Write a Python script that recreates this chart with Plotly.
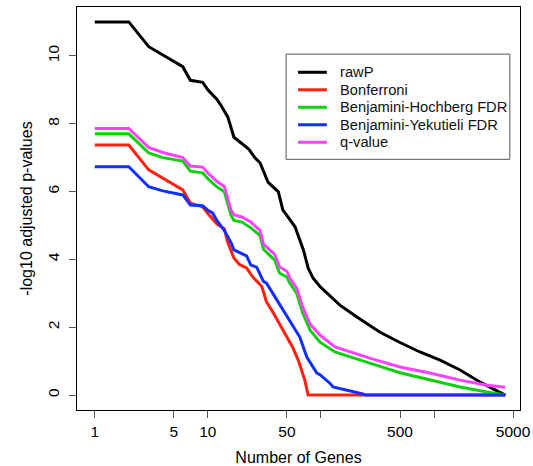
import plotly.graph_objects as go

# Number of genes called significant (rank) vs -log10 adjusted p-value
raw_genes = [1, 2, 3, 4, 5, 6, 7, 9, 10, 12, 13, 15, 17, 20, 23, 26, 29, 34, 42, 46,
             52, 59, 65, 70, 77, 85, 98, 125, 147, 208, 333, 500, 750, 1130, 1700, 2560, 4266]
raw_vals = [11.0, 11.0, 10.27, 10.03, 9.85, 9.68, 9.28, 9.22, 9.0, 8.72, 8.55, 8.2, 7.6, 7.4,
            7.25, 7.0, 6.84, 6.28, 5.99, 5.46, 5.2, 4.96, 4.57, 4.28, 3.75, 3.45, 3.2, 2.86,
            2.65, 2.30, 1.85, 1.55, 1.27, 1.03, 0.74, 0.38, 0.0]

bonf_genes = [1, 2, 3, 4, 6, 7, 9, 10, 12, 14, 15, 17, 19, 22, 25, 30, 33, 38, 46, 56,
              63, 72, 77, 4266]
bonf_vals = [7.37, 7.37, 6.64, 6.4, 6.05, 5.66, 5.55, 5.35, 5.05, 4.9, 4.5, 4.04, 3.85,
             3.75, 3.48, 3.2, 2.75, 2.42, 1.92, 1.42, 1.03, 0.44, 0.0, 0.0]

bh_genes = [1, 2, 3, 4, 6, 7, 9, 10, 12, 14, 16, 17, 20, 24, 29, 31, 39, 43, 50, 53, 61,
            69, 80, 98, 133, 180, 270, 500, 920, 1700, 2940, 4266]
bh_vals = [7.70, 7.70, 7.14, 7.0, 6.9, 6.6, 6.55, 6.38, 6.14, 5.99, 5.3, 5.15, 5.1, 4.93,
           4.7, 4.3, 3.98, 3.6, 3.48, 3.3, 3.0, 2.42, 1.92, 1.56, 1.27, 1.12, 0.94, 0.66,
           0.44, 0.24, 0.09, 0.0]

by_genes = [1, 2, 3, 4, 6, 7, 9, 10, 11, 12, 14, 16, 17, 22, 24, 27, 31, 33, 40, 53, 65,
            75, 92, 98, 120, 128, 170, 235, 250, 4266]
by_vals = [6.73, 6.73, 6.14, 6.02, 5.9, 5.6, 5.58, 5.45, 5.37, 5.15, 4.85, 4.5, 4.28, 4.1,
           3.83, 3.77, 3.35, 3.3, 2.85, 2.21, 1.71, 1.12, 0.65, 0.6, 0.35, 0.24, 0.15, 0.03,
           0.0, 0.0]

q_genes = [1, 2, 3, 4, 6, 7, 9, 10, 12, 14, 16, 17, 20, 24, 29, 31, 39, 43, 50, 53, 61,
           69, 80, 98, 133, 180, 270, 500, 920, 1700, 2940, 4266]
q_vals = [7.86, 7.86, 7.3, 7.15, 7.0, 6.75, 6.72, 6.55, 6.3, 6.15, 5.45, 5.32, 5.25, 5.1,
          4.85, 4.45, 4.15, 3.78, 3.65, 3.45, 3.15, 2.6, 2.1, 1.77, 1.42, 1.27, 1.09, 0.83,
          0.65, 0.44, 0.29, 0.23]

series = [
    ("rawP", raw_genes, raw_vals, "#000000"),
    ("Bonferroni", bonf_genes, bonf_vals, "#ff2010"),
    ("Benjamini-Hochberg FDR", bh_genes, bh_vals, "#10d010"),
    ("Benjamini-Yekutieli FDR", by_genes, by_vals, "#1030ff"),
    ("q-value", q_genes, q_vals, "#ff40ff"),
]

x_tickvals = [1, 5, 10, 50, 100, 500, 1000, 5000]
x_ticktext = ["1", "5", "10", "50", "", "500", "", "5000"]
y_tickvals = [0, 2, 4, 6, 8, 10]

FONT = "Liberation Sans, Arial, Helvetica, sans-serif"

fig = go.Figure()
for name, gx, gy, col in series:
    fig.add_trace(go.Scatter(x=gx, y=gy, mode="lines", name=name,
                             line=dict(color=col, width=3), showlegend=False))

# Legend box drawn in paper coordinates (R-style: compact rows, short line keys)
leg_x0, leg_x1 = 0.472, 0.977
leg_y0, leg_y1 = 0.622, 0.883
row_top, row_step = 0.838, 0.0434
key_x0, key_x1, text_x = 0.499, 0.564, 0.589

shapes = [dict(type="rect", xref="paper", yref="paper",
               x0=leg_x0, x1=leg_x1, y0=leg_y0, y1=leg_y1,
               line=dict(color="#555555", width=1), fillcolor="white", layer="above")]
annotations = []
for i, (name, _, _, col) in enumerate(series):
    yy = row_top - i * row_step
    shapes.append(dict(type="line", xref="paper", yref="paper",
                       x0=key_x0, x1=key_x1, y0=yy, y1=yy,
                       line=dict(color=col, width=3), layer="above"))
    annotations.append(dict(xref="paper", yref="paper", x=text_x, y=yy,
                            xanchor="left", yanchor="middle", showarrow=False,
                            text=name, font=dict(family=FONT, size=14.7, color="#111111")))

fig.update_layout(
    width=533, height=466,
    margin=dict(l=77, r=13, t=7, b=56),
    paper_bgcolor="white", plot_bgcolor="white",
    font=dict(family=FONT, color="black", size=15.5),
    showlegend=False,
    shapes=shapes, annotations=annotations,
    xaxis=dict(
        type="log", range=[-0.157, 3.76], automargin=False,
        tickvals=x_tickvals, ticktext=x_ticktext,
        ticks="outside", ticklen=7, tickcolor="#555555", tickwidth=1,
        showgrid=False, zeroline=False,
        showline=True, linecolor="black", linewidth=1, mirror=True,
        title=dict(text="Number of Genes", font=dict(size=16), standoff=14),
    ),
    yaxis=dict(
        range=[-0.44, 11.44], automargin=False,
        tickvals=y_tickvals, tickangle=-90, ticklabelstandoff=4,
        ticks="outside", ticklen=7, tickcolor="#555555", tickwidth=1,
        showgrid=False, zeroline=False,
        showline=True, linecolor="black", linewidth=1, mirror=True,
        title=dict(text="-log10 adjusted p-values", font=dict(size=16), standoff=8),
    ),
)

fig.write_html("out.html")
